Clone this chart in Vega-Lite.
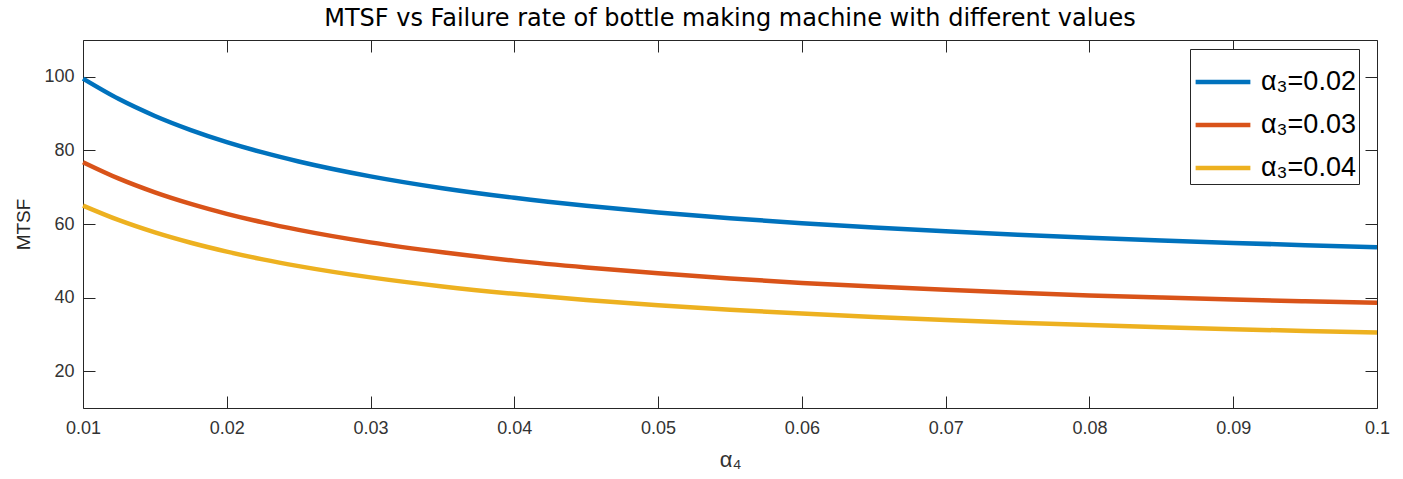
{
  "$schema": "https://vega.github.io/schema/vega-lite/v6.json",
  "width": 1294,
  "height": 368,
  "autosize": "none",
  "padding": {"left": 83, "top": 40, "right": 26, "bottom": 71},
  "background": "white",
  "config": {
    "view": {"stroke": "#262626", "strokeWidth": 1},
    "font": "Liberation Sans"
  },
  "title": {
    "text": "MTSF vs Failure rate of bottle making machine with different values",
    "fontSize": 24,
    "fontWeight": "normal",
    "font": "DejaVu Sans",
    "color": "#000000",
    "anchor": "middle",
    "offset": 9
  },
  "data": {
    "values": [
      {"series": "α₃=0.02", "a4": 0.010, "mtsf": 99.5},
      {"series": "α₃=0.02", "a4": 0.0125, "mtsf": 93.94},
      {"series": "α₃=0.02", "a4": 0.015, "mtsf": 89.36},
      {"series": "α₃=0.02", "a4": 0.0175, "mtsf": 85.53},
      {"series": "α₃=0.02", "a4": 0.020, "mtsf": 82.26},
      {"series": "α₃=0.02", "a4": 0.0225, "mtsf": 79.45},
      {"series": "α₃=0.02", "a4": 0.025, "mtsf": 77.0},
      {"series": "α₃=0.02", "a4": 0.030, "mtsf": 72.95},
      {"series": "α₃=0.02", "a4": 0.035, "mtsf": 69.73},
      {"series": "α₃=0.02", "a4": 0.040, "mtsf": 67.12},
      {"series": "α₃=0.02", "a4": 0.045, "mtsf": 64.95},
      {"series": "α₃=0.02", "a4": 0.050, "mtsf": 63.12},
      {"series": "α₃=0.02", "a4": 0.055, "mtsf": 61.56},
      {"series": "α₃=0.02", "a4": 0.060, "mtsf": 60.21},
      {"series": "α₃=0.02", "a4": 0.065, "mtsf": 59.04},
      {"series": "α₃=0.02", "a4": 0.070, "mtsf": 58.0},
      {"series": "α₃=0.02", "a4": 0.075, "mtsf": 57.08},
      {"series": "α₃=0.02", "a4": 0.080, "mtsf": 56.26},
      {"series": "α₃=0.02", "a4": 0.085, "mtsf": 55.52},
      {"series": "α₃=0.02", "a4": 0.090, "mtsf": 54.86},
      {"series": "α₃=0.02", "a4": 0.095, "mtsf": 54.25},
      {"series": "α₃=0.02", "a4": 0.100, "mtsf": 53.7},
      {"series": "α₃=0.03", "a4": 0.010, "mtsf": 76.8},
      {"series": "α₃=0.03", "a4": 0.0125, "mtsf": 72.32},
      {"series": "α₃=0.03", "a4": 0.015, "mtsf": 68.6},
      {"series": "α₃=0.03", "a4": 0.0175, "mtsf": 65.46},
      {"series": "α₃=0.03", "a4": 0.020, "mtsf": 62.77},
      {"series": "α₃=0.03", "a4": 0.0225, "mtsf": 60.44},
      {"series": "α₃=0.03", "a4": 0.025, "mtsf": 58.4},
      {"series": "α₃=0.03", "a4": 0.030, "mtsf": 55.0},
      {"series": "α₃=0.03", "a4": 0.035, "mtsf": 52.3},
      {"series": "α₃=0.03", "a4": 0.040, "mtsf": 50.05},
      {"series": "α₃=0.03", "a4": 0.045, "mtsf": 48.2},
      {"series": "α₃=0.03", "a4": 0.050, "mtsf": 46.6},
      {"series": "α₃=0.03", "a4": 0.055, "mtsf": 45.2},
      {"series": "α₃=0.03", "a4": 0.060, "mtsf": 44.0},
      {"series": "α₃=0.03", "a4": 0.065, "mtsf": 43.0},
      {"series": "α₃=0.03", "a4": 0.070, "mtsf": 42.1},
      {"series": "α₃=0.03", "a4": 0.075, "mtsf": 41.3},
      {"series": "α₃=0.03", "a4": 0.080, "mtsf": 40.6},
      {"series": "α₃=0.03", "a4": 0.085, "mtsf": 40.0},
      {"series": "α₃=0.03", "a4": 0.090, "mtsf": 39.45},
      {"series": "α₃=0.03", "a4": 0.095, "mtsf": 39.0},
      {"series": "α₃=0.03", "a4": 0.100, "mtsf": 38.6},
      {"series": "α₃=0.04", "a4": 0.010, "mtsf": 65.0},
      {"series": "α₃=0.04", "a4": 0.0125, "mtsf": 61.03},
      {"series": "α₃=0.04", "a4": 0.015, "mtsf": 57.71},
      {"series": "α₃=0.04", "a4": 0.0175, "mtsf": 54.9},
      {"series": "α₃=0.04", "a4": 0.020, "mtsf": 52.49},
      {"series": "α₃=0.04", "a4": 0.0225, "mtsf": 50.39},
      {"series": "α₃=0.04", "a4": 0.025, "mtsf": 48.56},
      {"series": "α₃=0.04", "a4": 0.030, "mtsf": 45.49},
      {"series": "α₃=0.04", "a4": 0.035, "mtsf": 43.04},
      {"series": "α₃=0.04", "a4": 0.040, "mtsf": 41.03},
      {"series": "α₃=0.04", "a4": 0.045, "mtsf": 39.35},
      {"series": "α₃=0.04", "a4": 0.050, "mtsf": 37.93},
      {"series": "α₃=0.04", "a4": 0.055, "mtsf": 36.71},
      {"series": "α₃=0.04", "a4": 0.060, "mtsf": 35.66},
      {"series": "α₃=0.04", "a4": 0.065, "mtsf": 34.73},
      {"series": "α₃=0.04", "a4": 0.070, "mtsf": 33.91},
      {"series": "α₃=0.04", "a4": 0.075, "mtsf": 33.19},
      {"series": "α₃=0.04", "a4": 0.080, "mtsf": 32.54},
      {"series": "α₃=0.04", "a4": 0.085, "mtsf": 31.95},
      {"series": "α₃=0.04", "a4": 0.090, "mtsf": 31.42},
      {"series": "α₃=0.04", "a4": 0.095, "mtsf": 30.94},
      {"series": "α₃=0.04", "a4": 0.100, "mtsf": 30.5}
    ]
  },
  "layer": [
    {
      "mark": {"type": "line", "strokeWidth": 4.5, "interpolate": "monotone"},
      "encoding": {
        "x": {
          "field": "a4", "type": "quantitative",
          "scale": {"domain": [0.01, 0.1], "nice": false, "zero": false},
          "axis": {
            "orient": "bottom",
            "title": "α₄",
            "values": [0.01, 0.02, 0.03, 0.04, 0.05, 0.06, 0.07, 0.08, 0.09, 0.1],
            "format": ".2~f",
            "grid": false,
            "domain": false,
            "tickSize": -12,
            "tickColor": "#262626",
            "labelFlush": false,
            "labelFontSize": 18,
            "labelColor": "#333333",
            "labelPadding": 23,
            "titleFontSize": 22,
            "titleFontWeight": "normal",
            "titleColor": "#333333",
            "titlePadding": 12
          }
        },
        "y": {
          "field": "mtsf", "type": "quantitative",
          "scale": {"domain": [10, 110], "nice": false, "zero": false},
          "axis": {
            "orient": "left",
            "title": "MTSF",
            "values": [20, 40, 60, 80, 100],
            "grid": false,
            "domain": false,
            "tickSize": -12,
            "tickColor": "#262626",
            "labelFlush": false,
            "labelFontSize": 18,
            "labelColor": "#333333",
            "labelPadding": 21,
            "titleFontSize": 19,
            "titleFontWeight": "normal",
            "titleColor": "#262626",
            "titlePadding": 10
          }
        },
        "color": {
          "field": "series", "type": "nominal",
          "scale": {"domain": ["α₃=0.02", "α₃=0.03", "α₃=0.04"], "range": ["#0072BD", "#D95319", "#EDB120"]},
          "legend": {
            "orient": "none",
            "legendX": 1107,
            "legendY": 9,
            "title": null,
            "strokeColor": "#262626",
            "fillColor": "white",
            "padding": 3,
            "symbolType": "stroke",
            "symbolSize": 3000,
            "symbolStrokeWidth": 4.5,
            "labelFontSize": 27,
            "labelColor": "#000000",
            "rowPadding": 0,
            "labelOffset": 8
          }
        }
      }
    },
    {
      "mark": {"type": "line", "opacity": 0},
      "encoding": {
        "x": {
          "field": "a4", "type": "quantitative",
          "axis": {
            "orient": "top",
            "title": null,
            "values": [0.01, 0.02, 0.03, 0.04, 0.05, 0.06, 0.07, 0.08, 0.09, 0.1],
            "labels": false,
            "grid": false,
            "domain": false,
            "tickSize": -12,
            "tickColor": "#262626"
          }
        },
        "y": {
          "field": "mtsf", "type": "quantitative",
          "axis": {
            "orient": "right",
            "title": null,
            "values": [20, 40, 60, 80, 100],
            "labels": false,
            "grid": false,
            "domain": false,
            "tickSize": -12,
            "tickColor": "#262626"
          }
        },
        "detail": {"field": "series", "type": "nominal"}
      }
    }
  ],
  "resolve": {"axis": {"x": "independent", "y": "independent"}}
}
